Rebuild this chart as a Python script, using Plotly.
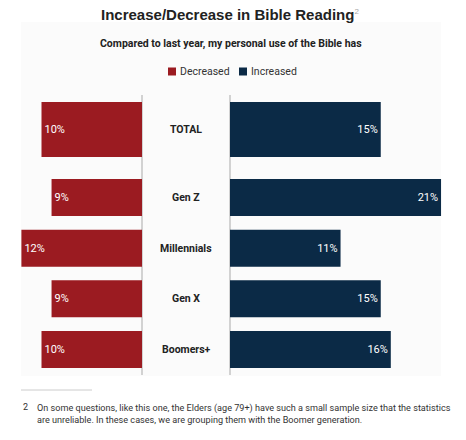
import plotly.graph_objects as go

categories_total = ["TOTAL"]
categories_gen = ["Gen Z", "Millennials", "Gen X", "Boomers+"]
decreased_total = [10]
increased_total = [15]
decreased_gen = [9, 12, 9, 10]
increased_gen = [21, 11, 15, 16]
series_names = ["Decreased", "Increased"]

RED = "#9b1b21"
NAVY = "#0b2a46"
COLORS = [RED, NAVY]
W, H = 466, 440
FONT = "Roboto, Liberation Sans, Arial, sans-serif"

def px_x(p):
    return p / W

def px_y(p):
    return 1 - p / H

fig = go.Figure()

def add_pair(cats, dec, inc, xl, xr, ya):
    fig.add_trace(go.Bar(
        y=cats, x=dec, orientation="h", name=series_names[0],
        marker=dict(color=COLORS[0], line=dict(width=0)),
        text=[f"{v}%" for v in dec], textposition="inside", insidetextanchor="end",
        textfont=dict(color="white", size=11, family=FONT),
        xaxis=xl, yaxis=ya, showlegend=False, hoverinfo="skip",
    ))
    fig.add_trace(go.Bar(
        y=cats, x=inc, orientation="h", name=series_names[1],
        marker=dict(color=COLORS[1], line=dict(width=0)),
        text=[f"{v}%" for v in inc], textposition="inside", insidetextanchor="end",
        textfont=dict(color="white", size=11, family=FONT),
        xaxis=xr, yaxis=ya, showlegend=False, hoverinfo="skip",
    ))

add_pair(categories_total, decreased_total, increased_total, "x", "x2", "y")
add_pair(categories_gen, decreased_gen, increased_gen, "x3", "x4", "y2")

scale = 10.05  # px per percent
left_max = 142 / scale
right_max = (W - 230) / scale
ax_common = dict(showgrid=False, zeroline=False, showticklabels=False, ticks="", showline=False, fixedrange=True)

fig.update_layout(
    width=W, height=H,
    margin=dict(l=0, r=0, t=0, b=0),
    paper_bgcolor="white", plot_bgcolor="rgba(0,0,0,0)",
    bargap=0.267,
    showlegend=False,
    xaxis=dict(domain=[0, px_x(142)], range=[left_max, 0], anchor="y", **ax_common),
    xaxis2=dict(domain=[px_x(230), 1], range=[0, right_max], anchor="y", **ax_common),
    xaxis3=dict(domain=[0, px_x(142)], range=[left_max, 0], anchor="y2", **ax_common),
    xaxis4=dict(domain=[px_x(230), 1], range=[0, right_max], anchor="y2", **ax_common),
    yaxis=dict(domain=[px_y(167), px_y(92)], anchor="x", type="category", **ax_common),
    yaxis2=dict(domain=[px_y(374.75), px_y(172.25)], anchor="x3", type="category",
                autorange="reversed", **ax_common),
    font=dict(family=FONT),
)

shapes = [
    dict(type="rect", xref="paper", yref="paper", x0=px_x(21), x1=px_x(441), y0=px_y(376), y1=px_y(22),
         fillcolor="#fbfbfb", line=dict(width=0), layer="below"),
    dict(type="line", xref="paper", yref="paper", x0=px_x(142), x1=px_x(142), y0=px_y(375), y1=px_y(95),
         line=dict(color="#d2d2d2", width=2), layer="below"),
    dict(type="line", xref="paper", yref="paper", x0=px_x(230), x1=px_x(230), y0=px_y(375), y1=px_y(95),
         line=dict(color="#d2d2d2", width=2), layer="below"),
    dict(type="line", xref="paper", yref="paper", x0=px_x(21), x1=px_x(92), y0=px_y(390), y1=px_y(390),
         line=dict(color="#cccccc", width=1)),
]

annotations = [
    dict(text="<b>Increase/Decrease in Bible Reading</b><sup><span style='color:#aaaaaa;font-size:8px'>2</span></sup>",
         x=px_x(230), y=px_y(14), xref="paper", yref="paper", showarrow=False,
         font=dict(family="Liberation Sans, Arial, sans-serif", size=15, color="#222222"),
         xanchor="center", yanchor="middle"),
    dict(text="<b>Compared to last year, my personal use of the Bible has</b>",
         x=px_x(231), y=px_y(44), xref="paper", yref="paper", showarrow=False,
         font=dict(family=FONT, size=10.5, color="#222222"), xanchor="center", yanchor="middle"),
    dict(text="2", x=px_x(21), y=px_y(407), xref="paper", yref="paper", showarrow=False,
         font=dict(family=FONT, size=9, color="#333333"), xanchor="left", yanchor="middle"),
    dict(text="On some questions, like this one, the Elders (age 79+) have such a small sample size that the statistics<br>"
              "are unreliable. In these cases, we are grouping them with the Boomer generation.",
         x=px_x(35), y=px_y(414), xref="paper", yref="paper", showarrow=False, align="left",
         font=dict(family=FONT, size=9.1, color="#333333"), xanchor="left", yanchor="middle"),
]

# custom legend (squares + names) laid out like the reference
legend_square_x = [168, 239]
for name, color, sx in zip(series_names, COLORS, legend_square_x):
    shapes.append(dict(type="rect", xref="paper", yref="paper",
                       x0=px_x(sx), x1=px_x(sx + 8), y0=px_y(75.5), y1=px_y(67.5),
                       fillcolor=color, line=dict(width=0)))
    annotations.append(dict(text=name, x=px_x(sx + 9.5), y=px_y(72), xref="paper", yref="paper",
                            showarrow=False, xanchor="left", yanchor="middle",
                            font=dict(family=FONT, size=10.5, color="#333333")))

for c in categories_total:
    annotations.append(dict(text=f"<b>{c}</b>", x=px_x(186), y=c, xref="paper", yref="y", showarrow=False,
                            font=dict(family=FONT, size=10.5, color="#222222"), xanchor="center"))
for c in categories_gen:
    annotations.append(dict(text=f"<b>{c}</b>", x=px_x(186), y=c, xref="paper", yref="y2", showarrow=False,
                            font=dict(family=FONT, size=10.5, color="#222222"), xanchor="center"))

fig.update_layout(shapes=shapes, annotations=annotations)

fig.write_html("out.html", config={"displayModeBar": False},
               post_script="document.body.style.margin='0';document.body.style.overflow='hidden';")
